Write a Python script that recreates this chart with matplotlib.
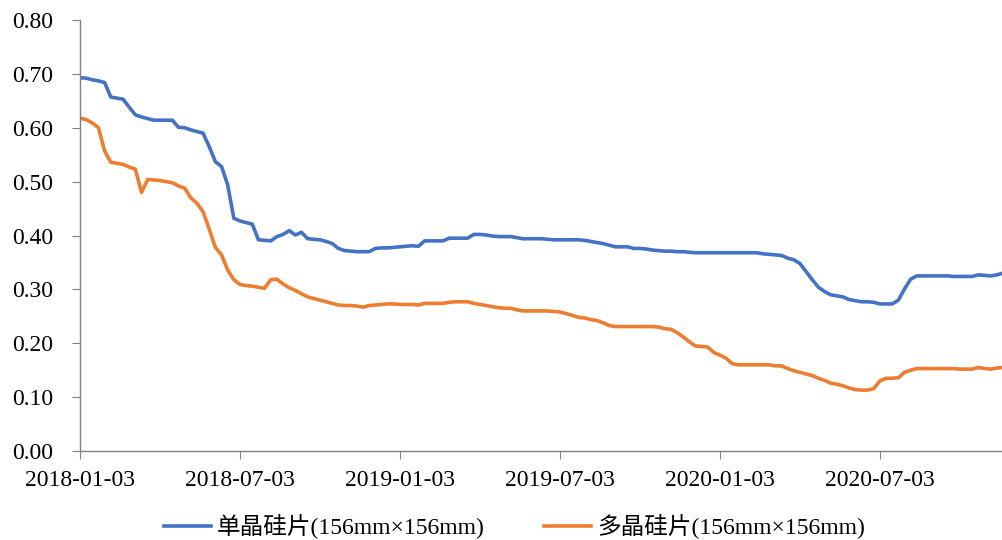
import matplotlib
matplotlib.use("Agg")
import matplotlib.pyplot as plt

plt.rcParams['font.family'] = ['Liberation Serif', 'Noto Sans CJK SC', 'DejaVu Sans']

tick_labels = ["2018-01-03", "2018-07-03", "2019-01-03", "2019-07-03", "2020-01-03", "2020-07-03"]
tick_index = [0, 26, 52, 78, 104, 130]

series_names = ["单晶硅片(156mm×156mm)", "多晶硅片(156mm×156mm)"]

mono = [
    0.693, 0.692, 0.689, 0.687, 0.684, 0.657, 0.655, 0.653, 0.638, 0.624,
    0.620, 0.617, 0.614, 0.614, 0.614, 0.614, 0.601, 0.600, 0.596, 0.593,
    0.590, 0.565, 0.537, 0.528, 0.494, 0.432, 0.427, 0.424, 0.421, 0.392,
    0.391, 0.390, 0.398, 0.402, 0.409, 0.401, 0.406, 0.394, 0.393, 0.392,
    0.389, 0.385, 0.376, 0.372, 0.371, 0.370, 0.370, 0.370, 0.376, 0.377,
    0.377, 0.378, 0.379, 0.380, 0.381, 0.380, 0.390, 0.390, 0.390, 0.390,
    0.395, 0.395, 0.395, 0.395, 0.402, 0.402, 0.401, 0.399, 0.398, 0.398,
    0.398, 0.396, 0.394, 0.394, 0.394, 0.394, 0.393, 0.392, 0.392, 0.392,
    0.392, 0.392, 0.391, 0.389, 0.387, 0.385, 0.382, 0.379, 0.379, 0.379,
    0.376, 0.376, 0.375, 0.373, 0.372, 0.371, 0.371, 0.370, 0.370, 0.369,
    0.368, 0.368, 0.368, 0.368, 0.368, 0.368, 0.368, 0.368, 0.368, 0.368,
    0.368, 0.366, 0.365, 0.364, 0.363, 0.358, 0.355, 0.348, 0.333, 0.318,
    0.304, 0.296, 0.290, 0.288, 0.286, 0.281, 0.279, 0.277, 0.277, 0.276,
    0.273, 0.273, 0.273, 0.280, 0.301, 0.319, 0.325, 0.325, 0.325, 0.325,
    0.325, 0.325, 0.324, 0.324, 0.324, 0.324, 0.327, 0.326, 0.325, 0.327,
    0.330,
]

multi = [
    0.618, 0.615, 0.609, 0.600, 0.557, 0.536, 0.534, 0.532, 0.527, 0.523,
    0.480, 0.504, 0.503, 0.502, 0.500, 0.498, 0.492, 0.488, 0.470, 0.460,
    0.444, 0.412, 0.378, 0.364, 0.336, 0.318, 0.309, 0.307, 0.306, 0.304,
    0.302, 0.318, 0.319, 0.310, 0.303, 0.298, 0.292, 0.286, 0.283, 0.280,
    0.277, 0.274, 0.271, 0.270, 0.270, 0.269, 0.267, 0.270, 0.271, 0.272,
    0.273, 0.273, 0.272, 0.272, 0.272, 0.271, 0.274, 0.274, 0.274, 0.274,
    0.276, 0.277, 0.277, 0.277, 0.274, 0.272, 0.270, 0.268, 0.266, 0.265,
    0.265, 0.262, 0.260, 0.260, 0.260, 0.260, 0.260, 0.259, 0.258, 0.255,
    0.252, 0.248, 0.247, 0.244, 0.242, 0.238, 0.233, 0.231, 0.231, 0.231,
    0.231, 0.231, 0.231, 0.231, 0.230, 0.227, 0.226, 0.220, 0.212, 0.203,
    0.195, 0.194, 0.193, 0.183, 0.178, 0.172, 0.162, 0.160, 0.160, 0.160,
    0.160, 0.160, 0.160, 0.158, 0.158, 0.153, 0.149, 0.146, 0.143, 0.140,
    0.135, 0.131, 0.126, 0.124, 0.121, 0.117, 0.114, 0.113, 0.113, 0.116,
    0.130, 0.135, 0.135, 0.136, 0.146, 0.150, 0.153, 0.153, 0.153, 0.153,
    0.153, 0.153, 0.153, 0.152, 0.152, 0.152, 0.155, 0.153, 0.152, 0.154,
    0.155,
]

y_ticks = [0.0, 0.1, 0.2, 0.3, 0.4, 0.5, 0.6, 0.7, 0.8]

fig = plt.figure(figsize=(10.03, 5.40), dpi=100)
ax = fig.add_axes([80 / 1003, 1 - 451 / 540, 1 - 80 / 1003, (451 - 20) / 540])

x = list(range(len(mono)))
ax.plot(x, mono, color="#4472C4", lw=2.6, label=series_names[0], solid_joinstyle="round")
ax.plot(x, multi, color="#ED7D31", lw=2.6, label=series_names[1], solid_joinstyle="round")

ax.set_xlim(0, len(mono) - 1)
ax.set_ylim(0, 0.8)
ax.set_yticks(y_ticks)
ax.set_yticklabels([f"{v:.2f}" for v in y_ticks])
ax.set_xticks(tick_index)
ax.set_xticklabels(tick_labels)

for s in ["top", "right"]:
    ax.spines[s].set_visible(False)
for s in ["left", "bottom"]:
    ax.spines[s].set_color("#808080")
    ax.spines[s].set_linewidth(1.0)
ax.tick_params(axis="both", direction="out", length=6, color="#808080", labelsize=17, labelcolor="black")
ax.tick_params(axis="x", pad=8)
ax.tick_params(axis="y", pad=13)

fig.legend(loc="center", ncol=2, frameon=False, fontsize=17,
           bbox_to_anchor=(0.513, 1 - 527 / 540), handlelength=2.0, columnspacing=2.5,
           handletextpad=0.25)

fig.savefig("out.png", dpi=100)
